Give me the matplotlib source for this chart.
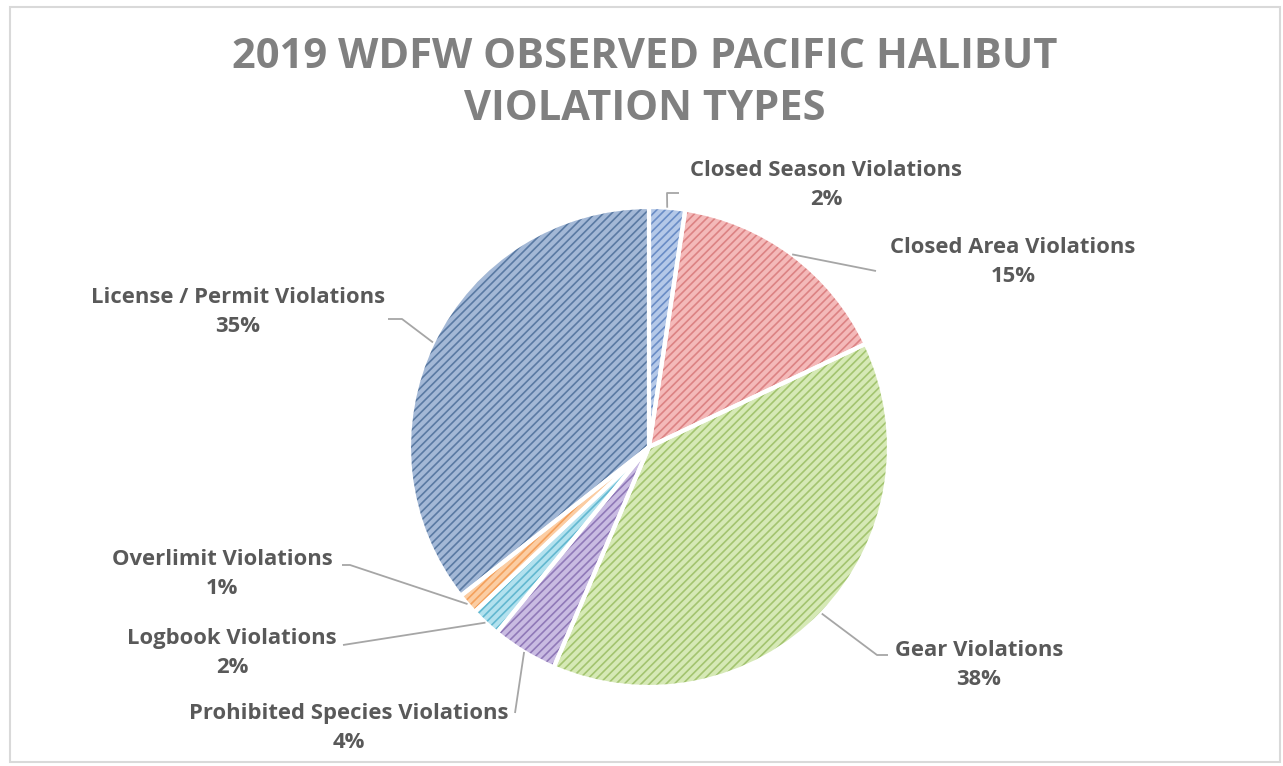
import matplotlib.pyplot as plt
from matplotlib.patches import Rectangle
import numpy as np

# slice data (clockwise from 12 o'clock)
categories = ["Closed Season Violations", "Closed Area Violations", "Gear Violations",
              "Prohibited Species Violations", "Logbook Violations", "Overlimit Violations",
              "License / Permit Violations"]
shares = [2.4, 15.4, 38.3, 4.4, 2.0, 1.4, 35.4]
pct_labels = ["2%", "15%", "38%", "4%", "2%", "1%", "35%"]

face_cols = ['#b4c8e8', '#f4b9b9', '#d6e9b6', '#c9bbe2', '#b2e1ee', '#fbcda3', '#a3b8d6']
hatch_cols = ['#6a8dc6', '#dc8283', '#a3c46f', '#9079b8', '#62b8d0', '#f4a05c', '#5a7aa3']

W, H = 1283, 766
cx, cy, R = 649, 447, 240

# label text centres and leader line points (image pixel coords)
label_pos = [(826, 185), (1013, 262), (979, 665), (349, 728), (232, 653), (222, 574), (238, 312)]
leader_pts = [[(667, 193), (679, 193)],
              [(876, 271)],
              [(877, 655), (888, 655)],
              [(515, 713)],
              [(343, 645)],
              [(350, 565), (342, 565)],
              [(402, 319), (388, 319)]]

plt.rcParams['hatch.linewidth'] = 1.2
fig = plt.figure(figsize=(W / 100, H / 100), dpi=100)
ax = fig.add_axes([0, 0, 1, 1])

wedges, _ = ax.pie(shares, colors=face_cols, startangle=90, counterclock=False,
                   center=(cx, H - cy), radius=R, hatch='////',
                   wedgeprops=dict(linewidth=0))
for w, hc in zip(wedges, hatch_cols):
    w.set_edgecolor(hc)
    w.set_linewidth(0)

# white separators on top
ax.pie(shares, colors=['none'] * len(shares), startangle=90, counterclock=False,
       center=(cx, H - cy), radius=R,
       wedgeprops=dict(linewidth=3, edgecolor='white', facecolor='none'))

ax.set_xlim(0, W)
ax.set_ylim(0, H)
ax.set_aspect('equal')
ax.axis('off')

for w, cat, pct, (lx, ly), pts in zip(wedges, categories, pct_labels, label_pos, leader_pts):
    th = np.deg2rad((w.theta1 + w.theta2) / 2)
    ax_x = cx + R * np.cos(th)
    ax_y = (H - cy) + R * np.sin(th)
    xs = [ax_x] + [p[0] for p in pts]
    ys = [ax_y] + [H - p[1] for p in pts]
    ax.plot(xs, ys, color='#a6a6a6', lw=1.3, solid_capstyle='butt')
    ax.text(lx, H - ly, cat + "\n" + pct, ha='center', va='center', multialignment='center',
            fontsize=15.8, fontweight='bold', color='#595959', family='Open Sans', linespacing=1.5)

ax.text(645, H - 57, "2019 WDFW OBSERVED PACIFIC HALIBUT", ha='center', va='center',
        fontsize=30, fontweight='bold', color='#808080', family='Open Sans')
ax.text(645, H - 109, "VIOLATION TYPES", ha='center', va='center',
        fontsize=30, fontweight='bold', color='#808080', family='Open Sans')

ax.add_patch(Rectangle((10, H - 762), 1270, 755, fill=False, edgecolor='#d9d9d9', lw=1.5))

fig.savefig('out.png', dpi=100)
